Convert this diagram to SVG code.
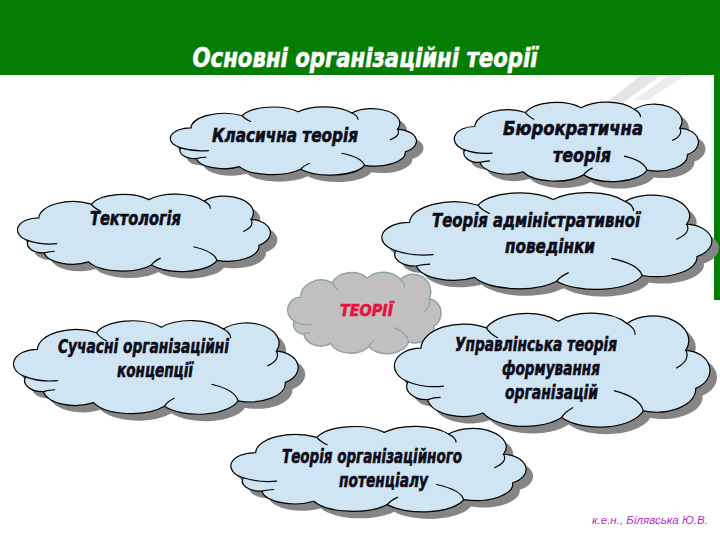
<svg xmlns="http://www.w3.org/2000/svg" xmlns:xlink="http://www.w3.org/1999/xlink" width="720" height="540" viewBox="0 0 720 540">
<style>
.cl{fill:#cfe5f3;stroke:#000;stroke-width:1.2}
.sh{fill:#858585;stroke:none}
.gr{fill:#c0c0c0;stroke:#8fa3a8;stroke-width:1.5}
.in{fill:none;stroke:#000;stroke-width:1.2}
.ing{fill:none;stroke:#8fa3a8;stroke-width:1.2}
.t{font-family:"Liberation Sans Narrow","DejaVu Sans Condensed","DejaVu Sans",sans-serif;font-weight:bold;font-style:italic;font-size:20px;fill:#0d0d1a;stroke:#0d0d1a;stroke-width:0.6;text-anchor:start}
.red{fill:#e3143f;stroke:#e3143f;font-size:16px}
.title{font-family:"Liberation Sans Narrow","DejaVu Sans Condensed","DejaVu Sans",sans-serif;font-weight:bold;font-style:italic;font-size:27px;fill:#fff;stroke:#fff;stroke-width:0.6}
</style>
<defs>
<path id="cloud" vector-effect="non-scaling-stroke" d="M 14 64 A 16 16 0 0 1 22 34 A 26 22 0 0 1 62 16 A 26 20 0 0 1 106 10 A 26 20 0 0 1 148 12 A 22 22 0 0 1 184 36 A 16 18 0 0 1 190 70 A 24 20 0 0 1 158 90 A 28 20 0 0 1 108 96 A 28 20 0 0 1 60 92 A 22 18 0 0 1 26 80 A 12 12 0 0 1 14 64 Z"/>
<path id="inner" vector-effect="non-scaling-stroke" d="M 14 64 Q 24 70 36 68 M 184 36 Q 187 45 178 52 M 158 90 Q 156 78 140 72 M 62 16 Q 64 21 69 25 M 148 12 Q 153 16 153 22 M 108 96 Q 110 91 115 87 M 26 80 Q 30 78 34 78"/>
</defs>
<rect x="0" y="0" width="720" height="540" fill="#fff"/>
<g id="background">
<rect x="0" y="0" width="720" height="75" fill="#037d03"/>
<rect x="714" y="75" width="6" height="225" fill="#037d03"/>
<path d="M 640 76 L 660 76 L 615 108 L 600 108 Z" fill="#e4e4e4"/>
<path d="M 668 76 L 684 76 L 648 100 L 634 100 Z" fill="#ececec"/>
<text class="title" x="365" y="67" text-anchor="middle" textLength="345" lengthAdjust="spacingAndGlyphs">Основні організаційні теорії</text>
</g>
<g id="connectors"/>
<g id="n-teorii">
<use xlink:href="#cloud" class="gr" transform="translate(283,270) scale(0.795,0.8)"/>
<use xlink:href="#inner" class="ing" transform="translate(283,270) scale(0.795,0.8)"/>
<text class="t red" x="340" y="316" textLength="53" lengthAdjust="spacingAndGlyphs">ТЕОРІЇ</text>
</g>
<g id="n-klasychna">
<use xlink:href="#cloud" class="sh" transform="translate(170,112) scale(1.275,0.67)"/>
<use xlink:href="#cloud" class="cl" transform="translate(163,105) scale(1.275,0.67)"/>
<use xlink:href="#inner" class="in" transform="translate(163,105) scale(1.275,0.67)"/>
<text class="t" x="212" y="142" textLength="146" lengthAdjust="spacingAndGlyphs">Класична теорія</text>
</g>
<g id="n-biurokratychna">
<use xlink:href="#cloud" class="sh" transform="translate(454,107) scale(1.265,0.78)"/>
<use xlink:href="#cloud" class="cl" transform="translate(447,100) scale(1.265,0.78)"/>
<use xlink:href="#inner" class="in" transform="translate(447,100) scale(1.265,0.78)"/>
<text class="t" x="503" y="135" textLength="140" lengthAdjust="spacingAndGlyphs">Бюрократична</text>
<text class="t" x="553" y="162" textLength="58" lengthAdjust="spacingAndGlyphs">теорія</text>
</g>
<g id="n-tektolohiia">
<use xlink:href="#cloud" class="sh" transform="translate(17,199) scale(1.31,0.76)"/>
<use xlink:href="#cloud" class="cl" transform="translate(10,192) scale(1.31,0.76)"/>
<use xlink:href="#inner" class="in" transform="translate(10,192) scale(1.31,0.76)"/>
<text class="t" x="90" y="225" textLength="91" lengthAdjust="spacingAndGlyphs">Тектологія</text>
</g>
<g id="n-admin">
<use xlink:href="#cloud" class="sh" transform="translate(379,197) scale(1.71,0.95)"/>
<use xlink:href="#cloud" class="cl" transform="translate(372,190) scale(1.71,0.95)"/>
<use xlink:href="#inner" class="in" transform="translate(372,190) scale(1.71,0.95)"/>
<text class="t" x="432" y="227" textLength="208" lengthAdjust="spacingAndGlyphs">Теорія адміністративної</text>
<text class="t" x="505" y="253" textLength="90" lengthAdjust="spacingAndGlyphs">поведінки</text>
</g>
<g id="n-suchasni">
<use xlink:href="#cloud" class="sh" transform="translate(12,325) scale(1.475,0.92)"/>
<use xlink:href="#cloud" class="cl" transform="translate(5,318) scale(1.475,0.92)"/>
<use xlink:href="#inner" class="in" transform="translate(5,318) scale(1.475,0.92)"/>
<text class="t" x="58" y="353" textLength="171" lengthAdjust="spacingAndGlyphs">Сучасні організаційні</text>
<text class="t" x="117" y="377" textLength="76" lengthAdjust="spacingAndGlyphs">концепції</text>
</g>
<g id="n-upravlinska">
<use xlink:href="#cloud" class="sh" transform="translate(392,317) scale(1.635,1.12)"/>
<use xlink:href="#cloud" class="cl" transform="translate(385,310) scale(1.635,1.12)"/>
<use xlink:href="#inner" class="in" transform="translate(385,310) scale(1.635,1.12)"/>
<text class="t" x="455" y="351" textLength="162" lengthAdjust="spacingAndGlyphs">Управлінська теорія</text>
<text class="t" x="502" y="375" textLength="98" lengthAdjust="spacingAndGlyphs">формування</text>
<text class="t" x="505" y="399" textLength="93" lengthAdjust="spacingAndGlyphs">організацій</text>
</g>
<g id="n-potentsial">
<use xlink:href="#cloud" class="sh" transform="translate(229,431) scale(1.53,0.84)"/>
<use xlink:href="#cloud" class="cl" transform="translate(222,424) scale(1.53,0.84)"/>
<use xlink:href="#inner" class="in" transform="translate(222,424) scale(1.53,0.84)"/>
<text class="t" x="282" y="463" textLength="180" lengthAdjust="spacingAndGlyphs">Теорія організаційного</text>
<text class="t" x="339" y="487" textLength="89" lengthAdjust="spacingAndGlyphs">потенціалу</text>
</g>
<text x="592" y="524" font-family="'Liberation Sans','DejaVu Sans',sans-serif" font-size="10" font-style="italic" fill="#c21fc8" textLength="116" lengthAdjust="spacingAndGlyphs">к.е.н., Білявська Ю.В.</text>
</svg>
